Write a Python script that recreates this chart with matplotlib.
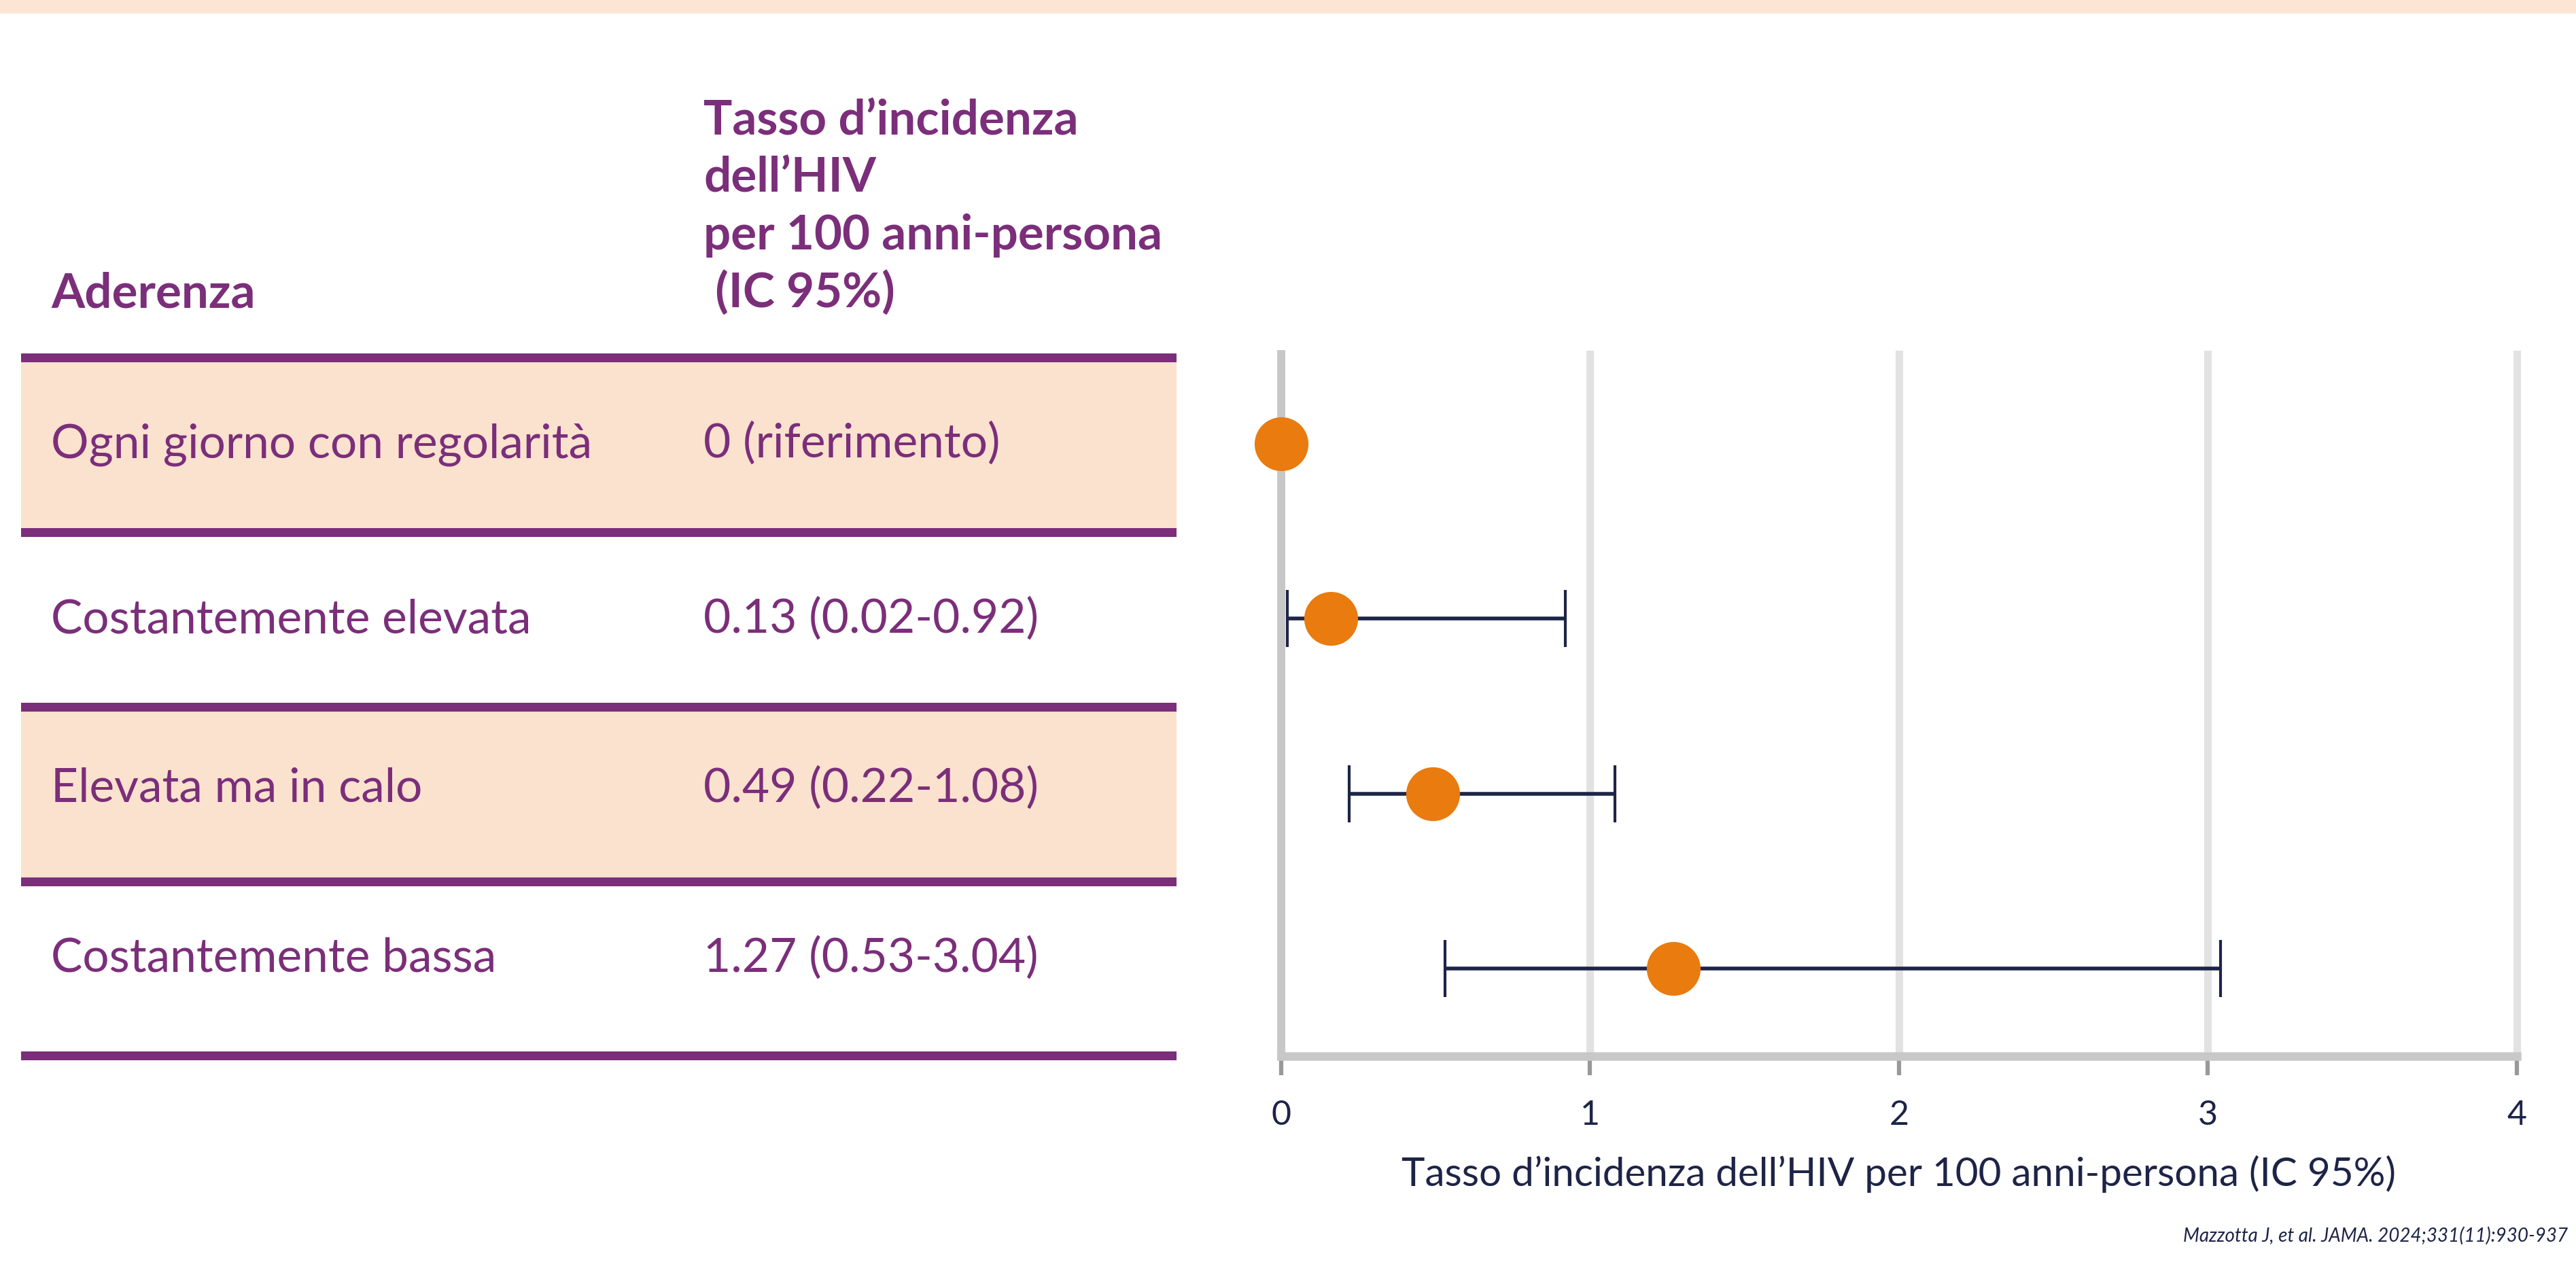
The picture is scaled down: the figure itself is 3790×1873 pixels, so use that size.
import matplotlib
matplotlib.use("Agg")
from matplotlib import pyplot as plt
from matplotlib.patches import Rectangle

# data
groups = ["Ogni giorno con regolarità", "Costantemente elevata",
          "Elevata ma in calo", "Costantemente bassa"]
rate_text = ["0 (riferimento)", "0.13 (0.02-0.92)",
             "0.49 (0.22-1.08)", "1.27 (0.53-3.04)"]
rate = [0.0, 0.16, 0.49, 1.27]
ci_low = [None, 0.02, 0.22, 0.53]
ci_high = [None, 0.92, 1.08, 3.04]
ticks = [0, 1, 2, 3, 4]
head_left = "Aderenza"
head_right = ["Tasso d\u2019incidenza", "dell\u2019HIV",
              "per 100 anni-persona", " (IC 95%)"]
xlabel = "Tasso d\u2019incidenza dell\u2019HIV per 100 anni-persona (IC 95%)"
source = "Mazzotta J, et al. JAMA. 2024;331(11):930-937"

PURPLE = "#7b2e7a"
PEACH = "#fae2cf"
NAVY = "#1e2447"
ORANGE = "#e97b0f"
FONT = "Lato"

W, H = 3791, 1873
fig = plt.figure(figsize=(W / 100, H / 100), dpi=100)

# background layer in pixel coords for the table part
bg = fig.add_axes([0, 0, 1, 1])
bg.set_xlim(0, W)
bg.set_ylim(H, 0)
bg.axis("off")

bg.add_patch(Rectangle((0, 0), W, 20, color="#fce6d3", lw=0))

line_y = [526, 783, 1040, 1297, 1553]
tab_x0, tab_x1 = 31, 1731
for i in range(len(groups)):
    if i % 2 == 0:
        bg.add_patch(Rectangle((tab_x0, line_y[i]), tab_x1 - tab_x0,
                               line_y[i + 1] - line_y[i], color=PEACH, lw=0))
for y in line_y:
    bg.add_patch(Rectangle((tab_x0, y - 6.5), tab_x1 - tab_x0, 13,
                           color=PURPLE, lw=0))

col1, col2 = 75, 1035
bg.text(col1, 452, head_left, color=PURPLE, fontsize=51, fontweight="bold",
        family=FONT, va="baseline")
for k, s in enumerate(head_right):
    bg.text(col2, 198 + 84.5 * k, s, color=PURPLE, fontsize=51,
            fontweight="bold", family=FONT, va="baseline")

base_y = [673, 931, 1180, 1430]
for g, r, y in zip(groups, rate_text, base_y):
    bg.text(col1, y, g, color=PURPLE, fontsize=50, fontweight="normal",
            family=FONT, va="baseline")
    bg.text(col2, y, r, color=PURPLE, fontsize=50, fontweight="normal",
            family=FONT, va="baseline")

bg.text(3778, 1827, source, color=NAVY, fontsize=20, style="italic",
        family=FONT, ha="right", va="baseline")

# forest plot
x0, x1 = 1885, 3703
ytop, ybot = 521, 1554
ax = fig.add_axes([x0 / W, 1 - ybot / H, (x1 - x0) / W, (ybot - ytop) / H])
ax.patch.set_alpha(0)
ax.set_xlim(0, 4)
ax.set_ylim(3.5, -0.513)

rows = list(range(len(groups)))
for i in rows:
    if ci_low[i] is not None:
        ax.errorbar(rate[i], i,
                    xerr=[[rate[i] - ci_low[i]], [ci_high[i] - rate[i]]],
                    fmt="none", ecolor=NAVY, elinewidth=4, capsize=30,
                    capthick=3, zorder=3)
ax.plot(rate, rows, "o", color=ORANGE, markersize=57, markeredgewidth=0,
        zorder=4, clip_on=False)

ax.set_xticks(ticks)
ax.set_xticklabels([str(t) for t in ticks])
ax.set_yticks([])
ax.grid(axis="x", color="#e2e2e2", linewidth=8)
for gl in ax.get_xgridlines():
    gl.set_clip_on(False)
ax.set_axisbelow(True)
for s in ["top", "right"]:
    ax.spines[s].set_visible(False)
ax.spines["left"].set_color("#c8c7c8")
ax.spines["left"].set_linewidth(8.5)
ax.spines["bottom"].set_color("#c8c8c8")
ax.spines["bottom"].set_linewidth(9)
ax.spines["left"].set_zorder(2)
ax.tick_params(axis="x", length=20, width=4.5, color="#999999", pad=26,
               labelsize=36, labelcolor=NAVY)
for lab in ax.get_xticklabels():
    lab.set_family(FONT)
ax.set_xlabel(xlabel, fontsize=42, color=NAVY, family=FONT,
              labelpad=26)

fig.savefig("out.png", dpi=100)
